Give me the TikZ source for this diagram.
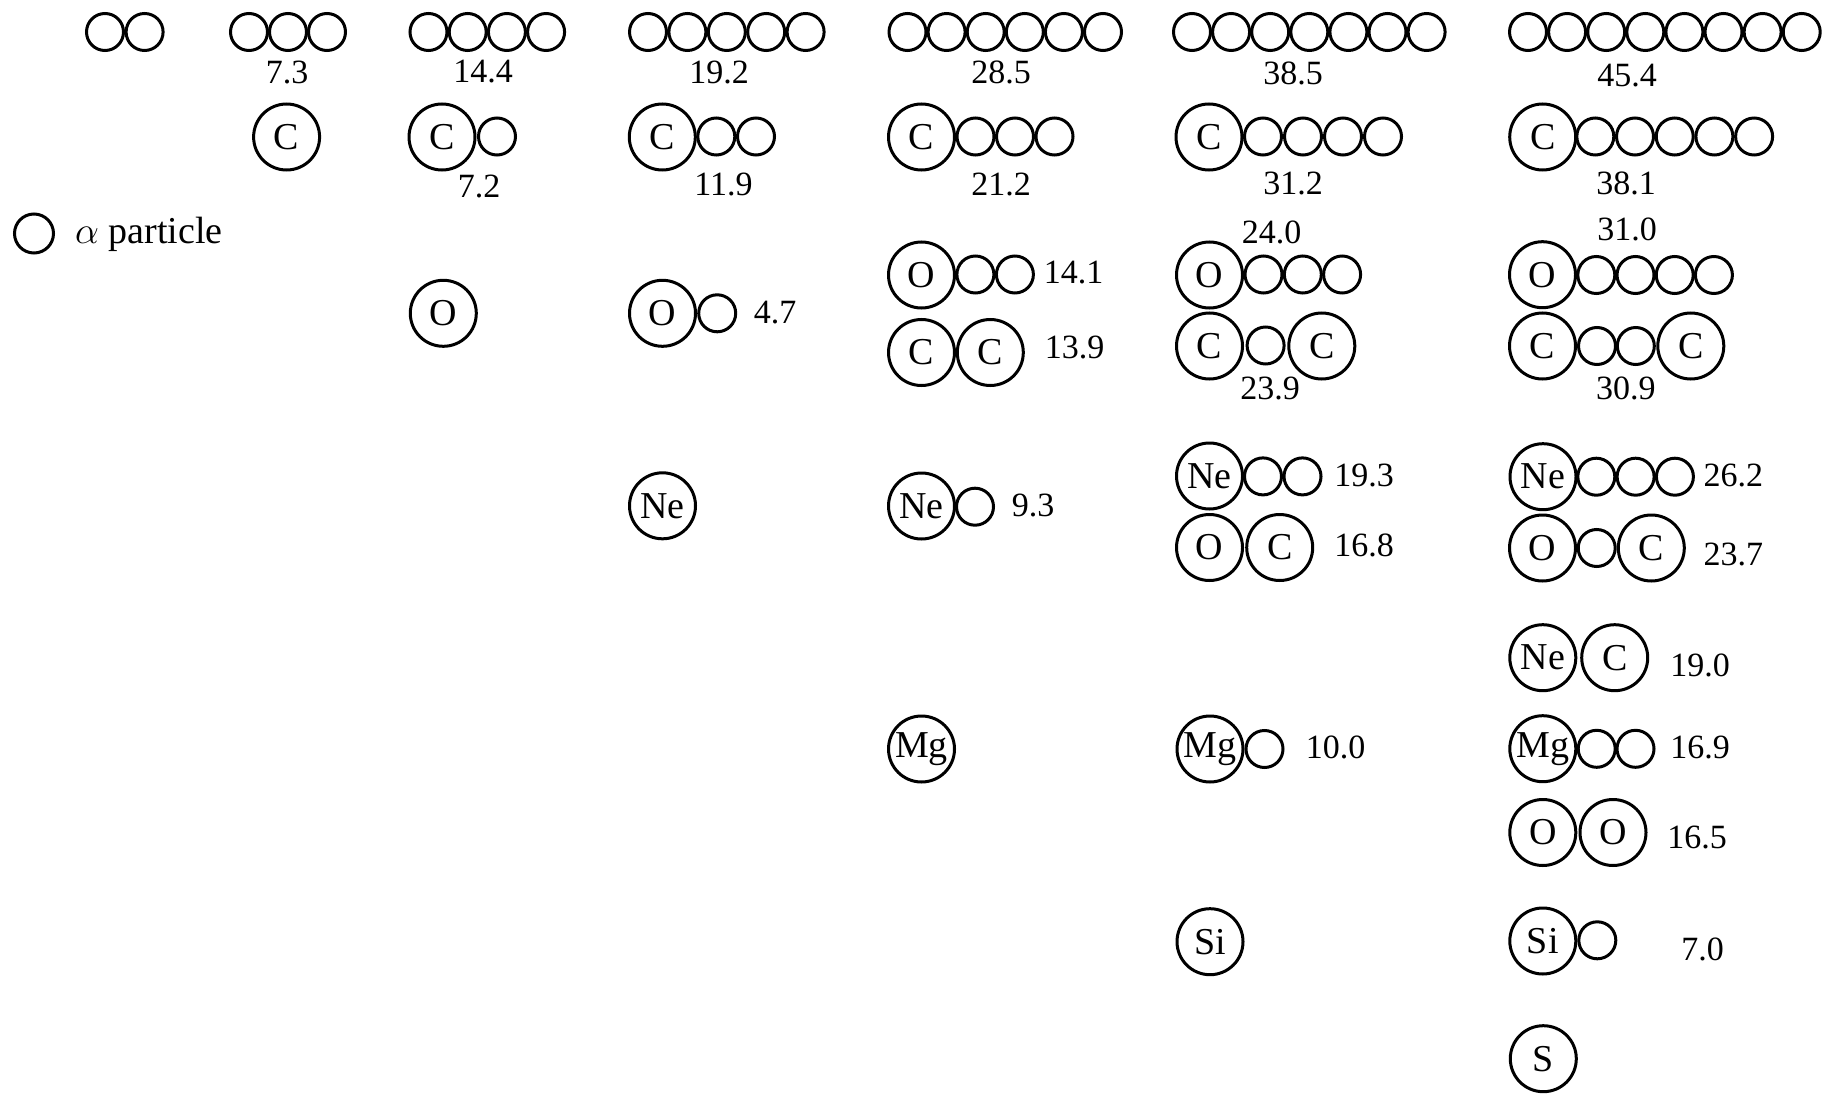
\documentclass[tikz,border=0pt]{standalone}
\usepackage{fix-cm}
\usepackage{fontspec}
\setmainfont{Liberation Serif}
\begin{document}
\begin{tikzpicture}[x=1pt,y=-1pt,
  nuc/.style={circle, draw, line width=3pt, minimum size=66pt, inner sep=0pt, font=\fontsize{38}{40}\selectfont},
  alp/.style={circle, draw, line width=3pt, minimum size=37pt, inner sep=0pt},
  val/.style={inner sep=0pt, font=\fontsize{34}{36}\selectfont},
  leg/.style={inner sep=0pt, font=\fontsize{38}{40}\selectfont}]
\useasboundingbox (0,0) rectangle (1823,1094);
% ---- row 1: alpha chains
\foreach \i in {0,1} \node[alp] (c1a\i) at ({105+39.6*\i},32) {};
\foreach \i in {0,...,2} \node[alp] (c2a\i) at ({249+39*\i},32) {};
\foreach \i in {0,...,3} \node[alp] (c3a\i) at ({428.5+39.2*\i},32) {};
\foreach \i in {0,...,4} \node[alp] (c4a\i) at ({648+39.4*\i},32) {};
\foreach \i in {0,...,5} \node[alp] (c5a\i) at ({907.5+39.1*\i},32) {};
\foreach \i in {0,...,6} \node[alp] (c6a\i) at ({1192+39.1*\i},32) {};
\foreach \i in {0,...,7} \node[alp] (c7a\i) at ({1528+39.1*\i},32) {};
\node[val] (l73) at (287,72) {7.3};
\node[val] (l144) at (483,72) {14.4};
\node[val] (l192) at (719,72) {19.2};
\node[val] (l285) at (1001,72) {28.5};
\node[val] (l385) at (1293,73) {38.5};
\node[val] (l454) at (1627,76) {45.4};
% ---- row 2: C + alphas
\node[nuc] (c2C) at (286.6,137) {C};
\node[nuc] (c3C) at (442,137) {C};
\node[alp] (c3Ca0) at (497,136.5) {};
\node[nuc] (c4C) at (662.3,137) {C};
\foreach \i in {0,1} \node[alp] (c4Ca\i) at ({716.3+39.7*\i},136.5) {};
\node[nuc] (c5C) at (921.5,137) {C};
\foreach \i in {0,...,2} \node[alp] (c5Ca\i) at ({975.5+39.5*\i},136.5) {};
\node[nuc] (c6C) at (1209,137) {C};
\foreach \i in {0,...,3} \node[alp] (c6Ca\i) at ({1263+40*\i},136.5) {};
\node[nuc] (c7C) at (1542.7,137) {C};
\foreach \i in {0,...,4} \node[alp] (c7Ca\i) at ({1595.3+39.7*\i},136.5) {};
\node[val] (l72) at (479,186) {7.2};
\node[val] (l119) at (723.4,184) {11.9};
\node[val] (l212) at (1001,184) {21.2};
\node[val] (l312) at (1293,183.5) {31.2};
\node[val] (l381) at (1626,183.5) {38.1};
% ---- legend
\node[alp, minimum size=39pt] (legc) at (34,233.5) {};
\node[leg, anchor=west] (legt) at (75,234) {$\alpha$ particle};
% ---- column 3
\node[nuc] (c3O) at (443.3,313.3) {O};
% ---- column 4
\node[nuc] (c4O) at (662.5,313.3) {O};
\node[alp] (c4Oa0) at (717.2,313.3) {};
\node[val] (l47) at (775,312.5) {4.7};
\node[nuc] (c4Ne) at (662.5,505.8) {Ne};
% ---- column 5
\node[nuc] (c5O) at (921.5,275) {O};
\foreach \i in {0,1} \node[alp] (c5Oa\i) at ({975.4+39.5*\i},274.5) {};
\node[val] (l141) at (1073.6,273) {14.1};
\node[nuc] (c5CC1) at (921.5,352.5) {C};
\node[nuc] (c5CC2) at (990.3,352.5) {C};
\node[val] (l139) at (1074.5,347) {13.9};
\node[nuc] (c5Ne) at (921.5,506) {Ne};
\node[alp] (c5Nea0) at (975,506.7) {};
\node[val] (l93) at (1033,505) {9.3};
\node[nuc] (c5Mg) at (921.5,749) {Mg};
% ---- column 6
\node[val] (l240) at (1271.5,232) {24.0};
\node[nuc] (c6O) at (1209.5,275) {O};
\foreach \i in {0,...,2} \node[alp] (c6Oa\i) at ({1263.5+39.3*\i},274.5) {};
\node[nuc] (c6CaC1) at (1209.5,346) {C};
\node[alp] (c6CaCa) at (1265.6,345.5) {};
\node[nuc] (c6CaC2) at (1321.8,346) {C};
\node[val] (l239) at (1270,388) {23.9};
\node[nuc] (c6Ne) at (1209.5,476) {Ne};
\foreach \i in {0,1} \node[alp] (c6Nea\i) at ({1263+39.5*\i},476.4) {};
\node[val] (l193) at (1364,475) {19.3};
\node[nuc] (c6OC1) at (1209.5,547.5) {O};
\node[nuc] (c6OC2) at (1279.7,547.5) {C};
\node[val] (l168) at (1364,545) {16.8};
\node[nuc] (c6Mg) at (1210,749) {Mg};
\node[alp] (c6Mga0) at (1264.5,749) {};
\node[val] (l100) at (1335.5,747) {10.0};
\node[nuc] (c6Si) at (1210,941.7) {Si};
% ---- column 7
\node[val] (l310) at (1627,229) {31.0};
\node[nuc] (c7O) at (1542.5,274.7) {O};
\foreach \i in {0,...,3} \node[alp] (c7Oa\i) at ({1596.3+39.2*\i},275) {};
\node[nuc] (c7CC1) at (1542.5,346) {C};
\foreach \i in {0,1} \node[alp] (c7CCa\i) at ({1597+38.8*\i},346) {};
\node[nuc] (c7CC2) at (1690.8,346) {C};
\node[val] (l309) at (1625.8,388) {30.9};
\node[nuc] (c7Ne) at (1543,476.7) {Ne};
\foreach \i in {0,...,2} \node[alp] (c7Nea\i) at ({1596.3+39.3*\i},476.7) {};
\node[val] (l262) at (1733.3,475) {26.2};
\node[nuc] (c7OC1) at (1542.5,548) {O};
\node[alp] (c7OCa) at (1596.7,548) {};
\node[nuc] (c7OC2) at (1651.3,548) {C};
\node[val] (l237) at (1733.3,554) {23.7};
\node[nuc] (c7NeC1) at (1542.8,657.7) {Ne};
\node[nuc] (c7NeC2) at (1614.7,657.7) {C};
\node[val] (l190) at (1700,665.7) {19.0};
\node[nuc] (c7Mg) at (1542.8,748.7) {Mg};
\foreach \i in {0,1} \node[alp] (c7Mga\i) at ({1596.7+38.8*\i},748.8) {};
\node[val] (l169) at (1700,747) {16.9};
\node[nuc] (c7OO1) at (1542.8,832.5) {O};
\node[nuc] (c7OO2) at (1613,832.5) {O};
\node[val] (l165) at (1697,837.5) {16.5};
\node[nuc] (c7Si) at (1542.8,941) {Si};
\node[alp] (c7Sia0) at (1597.3,940.3) {};
\node[val] (l70) at (1702.5,949) {7.0};
\node[nuc] (c7S) at (1543.3,1058.7) {S};
\end{tikzpicture}
\end{document}
